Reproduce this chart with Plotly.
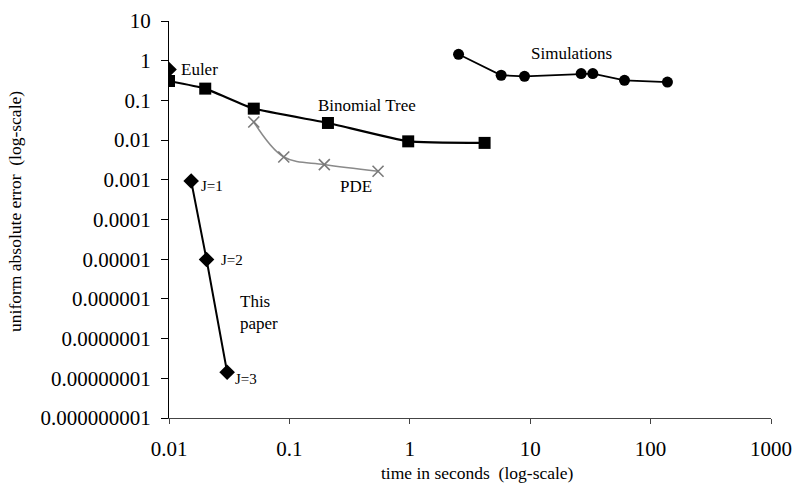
import plotly.graph_objects as go

# ---- data ----
euler_t = [0.01]
euler_err = [0.6]

binomial_t = [0.01, 0.020, 0.0506, 0.209, 0.97, 4.18]
binomial_err = [0.308, 0.198, 0.062, 0.027, 0.0093, 0.0085]

pde_t = [0.0506, 0.0898, 0.195, 0.545]
pde_err = [0.0286, 0.00375, 0.00242, 0.00164]

paper_t = [0.01528, 0.0205, 0.0304]
paper_err = [0.00093, 9.8e-6, 1.42e-8]

sim_t = [2.54, 5.74, 8.97, 26.5, 33.1, 60.7, 138]
sim_err = [1.45, 0.43, 0.405, 0.473, 0.473, 0.321, 0.29]

x_tickvals = [0.01, 0.1, 1, 10, 100, 1000]
x_ticktext = ["0.01", "0.1", "1", "10", "100", "1000"]
y_tickvals = [10, 1, 0.1, 0.01, 0.001, 0.0001, 0.00001, 0.000001,
              0.0000001, 0.00000001, 0.000000001]
y_ticktext = ["10", "1", "0.1", "0.01", "0.001", "0.0001", "0.00001",
              "0.000001", "0.0000001", "0.00000001", "0.000000001"]

FONT = "Liberation Serif, Times New Roman, serif"

# plot-area geometry in window pixels
PX0, PX1 = 168.5, 771.0
PY0, PY1 = 20.7, 417.7
W, H = 792, 495

fig = go.Figure()

fig.add_trace(go.Scatter(
    x=pde_t, y=pde_err, mode="lines+markers",
    line=dict(color="#8a8a8a", width=1.6, shape="spline"),
    marker=dict(symbol="x-thin", size=11, line=dict(color="#7a7a7a", width=1.6)),
    name="PDE"))

fig.add_trace(go.Scatter(
    x=binomial_t, y=binomial_err, mode="lines+markers",
    line=dict(color="black", width=2.2, shape="spline", smoothing=0.4),
    marker=dict(symbol="square", size=12, color="black"),
    name="Binomial Tree"))

fig.add_trace(go.Scatter(
    x=paper_t, y=paper_err, mode="lines+markers",
    line=dict(color="black", width=2),
    marker=dict(symbol="diamond", size=12, color="black"),
    name="This paper"))

fig.add_trace(go.Scatter(
    x=euler_t, y=euler_err, mode="markers",
    marker=dict(symbol="diamond", size=12, color="black"),
    name="Euler"))

fig.add_trace(go.Scatter(
    x=sim_t, y=sim_err, mode="lines+markers",
    line=dict(color="black", width=1.8),
    marker=dict(symbol="circle", size=11, color="black"),
    name="Simulations"))

# text labels (log10 coordinates)
labels = [
    ("Euler", -1.913, -0.217, 17),
    ("Binomial Tree", -0.776, -1.123, 17),
    ("PDE", -0.593, -3.164, 17),
    ("J=1", -1.755, -3.164, 15),
    ("J=2", -1.581, -5.028, 15),
    ("This<br>paper", -1.423, -6.35, 17),
    ("J=3", -1.465, -8.025, 15),
    ("Simulations", 0.992, 0.194, 17),
]
for txt, lx, ly, fs in labels:
    fig.add_annotation(x=lx, y=ly, xref="x", yref="y", text=txt,
                       showarrow=False, xanchor="left", yanchor="middle",
                       align="left", font=dict(family=FONT, size=fs, color="black"))

def px_to_paper(px, py):
    return (px - PX0) / (PX1 - PX0), 1 - (py - PY0) / (PY1 - PY0)

tx, ty = px_to_paper(477, 473)
fig.add_annotation(x=tx, y=ty, xref="paper", yref="paper",
                   text="time in seconds  (log-scale)", showarrow=False,
                   xanchor="center", yanchor="middle",
                   font=dict(family=FONT, size=17.5, color="black"))
tx, ty = px_to_paper(15, 211)
fig.add_annotation(x=tx, y=ty, xref="paper", yref="paper",
                   text="uniform absolute error  (log-scale)",
                   textangle=-90, showarrow=False, xanchor="center", yanchor="middle",
                   font=dict(family=FONT, size=17.5, color="black"))

fig.update_layout(
    width=W, height=H,
    margin=dict(l=PX0, r=W - PX1, t=PY0, b=H - PY1, autoexpand=False),
    paper_bgcolor="white", plot_bgcolor="white",
    showlegend=False,
    font=dict(family=FONT, color="black"),
)
fig.update_xaxes(type="log", range=[-2, 3], tickvals=x_tickvals, ticktext=x_ticktext,
                 showgrid=False, zeroline=False, showline=True, linecolor="#444", linewidth=1,
                 ticks="outside", ticklen=5, tickcolor="#444", tickwidth=1,
                 tickfont=dict(family=FONT, size=21, color="black"), ticklabelstandoff=7)
fig.update_yaxes(type="log", range=[-9, 1], tickvals=y_tickvals, ticktext=y_ticktext,
                 showgrid=False, zeroline=False, showline=True, linecolor="black", linewidth=1.2,
                 ticks="outside", ticklen=7, tickcolor="black", tickwidth=1,
                 tickfont=dict(family=FONT, size=21, color="black"), ticklabelstandoff=6)

fig.write_html("out.html", config={"displayModeBar": False},
               post_script="document.body.style.margin='0';document.body.style.overflow='hidden';")
